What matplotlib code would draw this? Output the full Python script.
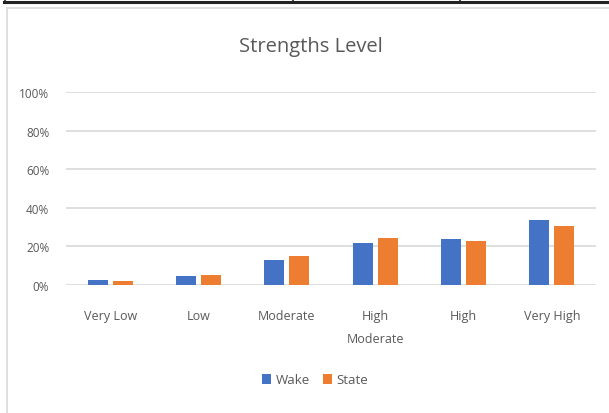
import matplotlib.pyplot as plt
import numpy as np
from matplotlib.lines import Line2D

categories = ['Very Low', 'Low', 'Moderate', 'High\nModerate', 'High', 'Very High']
wake = [2.5, 4.9, 13.0, 21.8, 24.0, 33.7]
state = [2.3, 5.3, 15.0, 24.5, 22.6, 30.4]
yticks = [0, 20, 40, 60, 80, 100]

plt.rcParams['font.family'] = ['Open Sans', 'DejaVu Sans']
txt = '#595959'

fig = plt.figure(figsize=(6.09, 4.14), dpi=100)

# bits of the surrounding table and the chart frame
W, H = 609, 414
def fx(x): return x / W
def fy(y): return 1 - y / H
fig.add_artist(Line2D([fx(4), fx(609)], [fy(3), fy(3)], color='#222222', lw=2.2))
for xv in [5, 293, 460]:
    fig.add_artist(Line2D([fx(xv), fx(xv)], [fy(0), fy(3)], color='#222222', lw=1.2))
fig.add_artist(Line2D([fx(7), fx(609)], [fy(9), fy(9)], color='#d9d9d9', lw=1.2))
fig.add_artist(Line2D([fx(7), fx(7)], [fy(9), fy(414)], color='#d9d9d9', lw=1.2))

ax = fig.add_axes([fx(66), fy(286), fx(596) - fx(66), fy(93) - fy(286)])
x = np.arange(len(categories))
bw = 0.226
off = 0.142
ax.bar(x - off, wake, bw, color='#4472c4', label='Wake', zorder=3)
ax.bar(x + off, state, bw, color='#ed7d31', label='State', zorder=3)

ax.set_xlim(-0.5, len(categories) - 0.5)
ax.set_ylim(0, 100)
ax.set_yticks(yticks)
ax.set_yticklabels([f'{v}%' for v in yticks], color=txt, fontsize=8.5)
ax.set_xticks(x)
ax.set_xticklabels(categories, color=txt, fontsize=9, linespacing=2.0)
ax.yaxis.grid(True, color='#d9d9d9', lw=1.2, zorder=0)
for s in ax.spines.values():
    s.set_visible(False)
ax.tick_params(length=0)
ax.tick_params(axis='x', pad=17)
ax.tick_params(axis='y', pad=12)

fig.text(fx(311), fy(47), 'Strengths Level', ha='center', va='center', fontsize=14.5, color=txt)

fig.legend(loc='center', bbox_to_anchor=(fx(315), fy(381)), ncol=2, frameon=False,
           fontsize=9.5, labelcolor=txt, handlelength=0.7, handleheight=0.7,
           handletextpad=0.3, columnspacing=1.0)

fig.savefig('out.png', dpi=100)
